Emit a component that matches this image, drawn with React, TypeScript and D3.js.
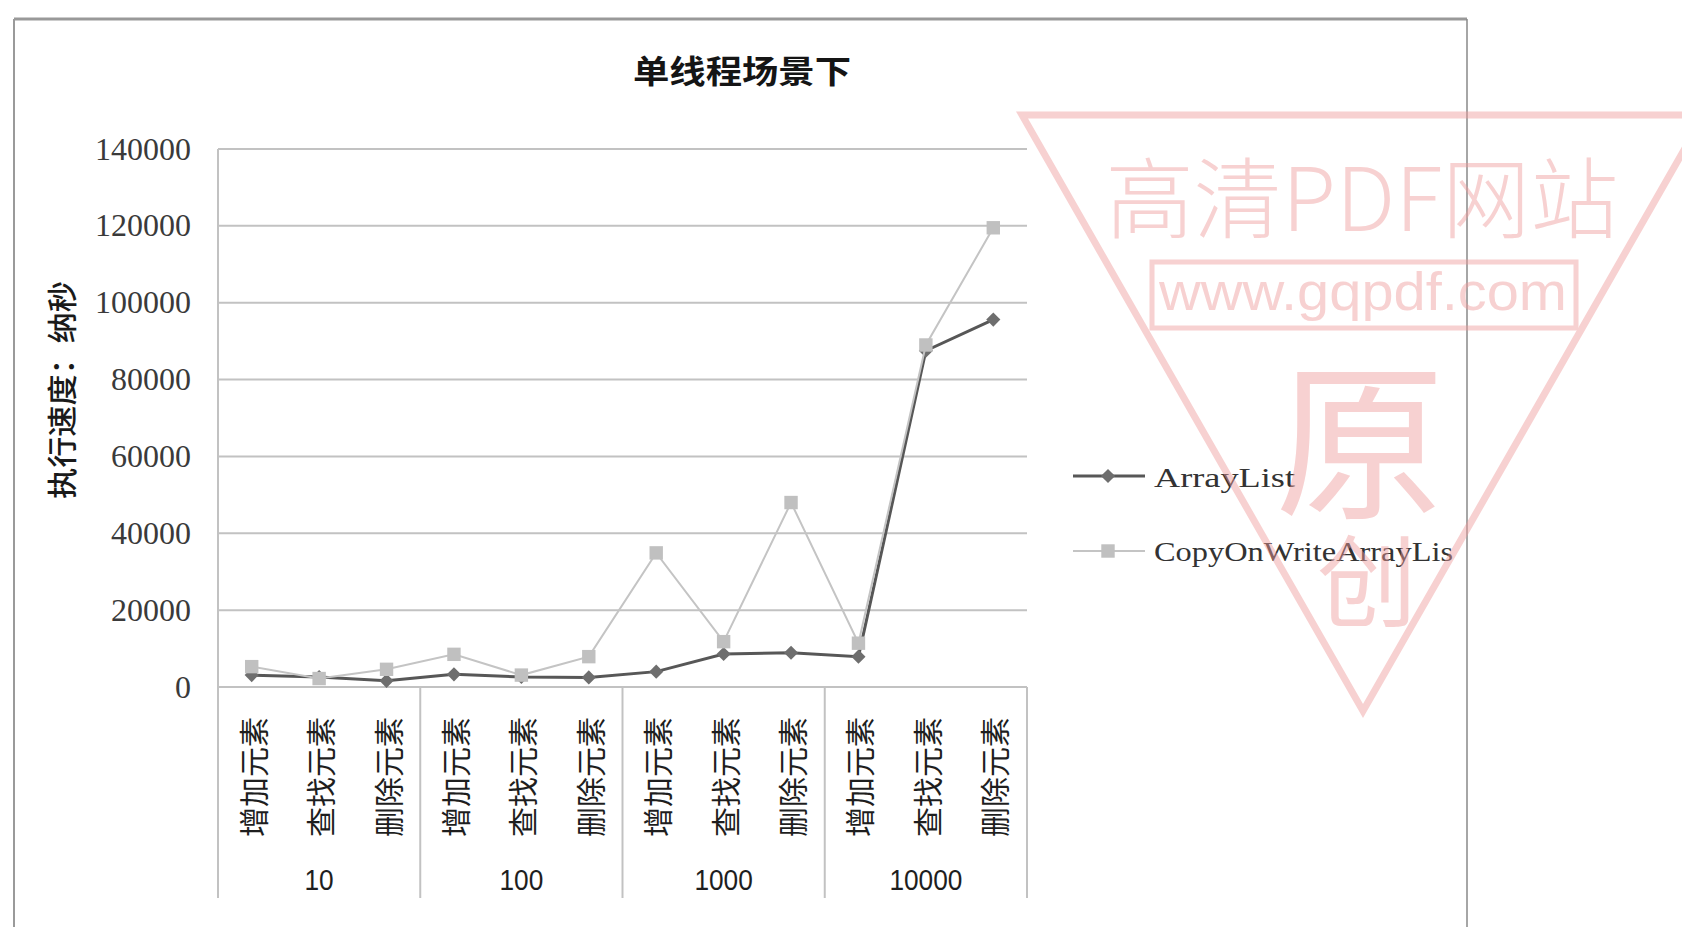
import React from "react";
import * as d3 from "d3";

const groups = ["10", "100", "1000", "10000"];
const operations = ["增加元素", "查找元素", "删除元素"];
const seriesNames = ["ArrayList", "CopyOnWriteArrayLis"];
const arrayListValues = [3100, 2600, 1600, 3300, 2600, 2500, 4000, 8600, 8900, 7900, 87500, 95600];
const copyOnWriteValues = [5300, 2200, 4600, 8500, 3100, 7900, 34900, 11800, 48000, 11400, 89000, 119500];
const yTicks = [0, 20000, 40000, 60000, 80000, 100000, 120000, 140000];
const title = "单线程场景下";
const yTitle = "执行速度：纳秒";

const W = 1682;
const H = 927;
const plotLeft = 218;
const plotRight = 1027;
const plotTop = 149;
const plotBottom = 687;
const axisBottom = 898;

export default function App() {
  const keys = groups.flatMap((g) => operations.map((o) => `${g}|${o}`));
  const x = d3.scaleBand<string>().domain(keys).range([plotLeft, plotRight]).padding(0);
  const y = d3.scaleLinear().domain([0, 140000]).range([plotBottom, plotTop]);
  const cx = (i: number) => (x(keys[i]) as number) + x.bandwidth() / 2;
  const line = d3
    .line<number>()
    .x((_, i) => cx(i))
    .y((d) => y(d));
  const diamond = d3.symbol().type(d3.symbolSquare).size(100)();
  const square = d3.symbol().type(d3.symbolSquare).size(180)();
  const groupWidth = x.bandwidth() * operations.length;

  return (
    <svg
      width={W}
      height={H}
      style={{ position: "absolute", left: 0, top: 0, display: "block", background: "#fff" }}
    >
      <rect x={0} y={0} width={W} height={H} fill="#fff" />
      {/* outer frame */}
      <line x1={14} y1={19} x2={1467} y2={19} stroke="#999" strokeWidth={3} />
      <line x1={14} y1={19} x2={14} y2={H} stroke="#9a9a9a" strokeWidth={2} />
      <line x1={1467} y1={19} x2={1467} y2={H} stroke="#888" strokeWidth={1.5} />

      {/* title */}
      <text
        x={742}
        y={83}
        textAnchor="middle"
        fontFamily="'Noto Sans CJK SC', sans-serif"
        fontWeight={700}
        fontSize={32}
        textLength={218}
        lengthAdjust="spacingAndGlyphs"
        fill="#151515"
      >
        {title}
      </text>

      {/* y axis title */}
      <text
        transform={`translate(60,390) rotate(-90)`}
        textAnchor="middle"
        dominantBaseline="central"
        fontFamily="'Noto Sans CJK SC', sans-serif"
        fontWeight={500}
        fontSize={30}
        textLength={218}
        lengthAdjust="spacingAndGlyphs"
        fill="#1a1a1a"
      >
        {yTitle}
      </text>

      {/* gridlines */}
      {yTicks.map((t) => (
        <g key={t}>
          <line x1={plotLeft} x2={plotRight} y1={y(t)} y2={y(t)} stroke="#c2c2c2" strokeWidth={2} />
          <text
            x={191}
            y={y(t)}
            textAnchor="end"
            dominantBaseline="central"
            fontFamily="'Liberation Serif', serif"
            fontSize={31}
            textLength={String(t).length * 16}
            lengthAdjust="spacingAndGlyphs"
            fill="#3a3a3a"
          >
            {t}
          </text>
        </g>
      ))}

      {/* left axis */}
      <line x1={plotLeft} x2={plotLeft} y1={plotTop} y2={axisBottom} stroke="#c2c2c2" strokeWidth={2} />
      {/* group separators */}
      {groups.map((g, gi) => {
        const xr = (x(`${g}|${operations[0]}`) as number) + groupWidth;
        return (
          <line key={g} x1={xr} x2={xr} y1={plotBottom} y2={axisBottom} stroke="#c2c2c2" strokeWidth={2} />
        );
      })}

      {/* category labels */}
      {keys.map((k, i) => (
        <text
          key={k}
          transform={`translate(${cx(i)},777) rotate(-90)`}
          textAnchor="middle"
          dominantBaseline="central"
          fontFamily="'Noto Sans CJK SC', sans-serif"
          fontSize={30}
          textLength={120}
          lengthAdjust="spacingAndGlyphs"
          fill="#1e1e1e"
        >
          {k.split("|")[1]}
        </text>
      ))}
      {groups.map((g) => {
        const gx = (x(`${g}|${operations[0]}`) as number) + groupWidth / 2;
        return (
          <text
            key={g}
            x={gx}
            y={880}
            textAnchor="middle"
            dominantBaseline="central"
            fontFamily="'Liberation Sans', Arial, sans-serif"
            fontSize={29}
            textLength={g.length * 14.6}
            lengthAdjust="spacingAndGlyphs"
            fill="#1e1e1e"
          >
            {g}
          </text>
        );
      })}

      {/* series: ArrayList */}
      <path d={line(arrayListValues) || ""} fill="none" stroke="#575757" strokeWidth={3} />
      {arrayListValues.map((v, i) => (
        <path
          key={`a${i}`}
          d={diamond || ""}
          transform={`translate(${cx(i)},${y(v)}) rotate(45)`}
          fill="#6e6e6e"
        />
      ))}
      {/* series: CopyOnWriteArrayList */}
      <path d={line(copyOnWriteValues) || ""} fill="none" stroke="#c4c4c4" strokeWidth={2} />
      {copyOnWriteValues.map((v, i) => (
        <path key={`c${i}`} d={square || ""} transform={`translate(${cx(i)},${y(v)})`} fill="#c0c0c0" />
      ))}

      {/* legend */}
      <line x1={1073} x2={1145} y1={476} y2={476} stroke="#575757" strokeWidth={3} />
      <path d={diamond || ""} transform={`translate(1108,476) rotate(45)`} fill="#6e6e6e" />
      <text
        x={1154}
        y={487}
        fontFamily="'Liberation Serif', serif"
        fontSize={28}
        textLength={141}
        lengthAdjust="spacingAndGlyphs"
        fill="#333"
      >
        {seriesNames[0]}
      </text>
      <line x1={1073} x2={1145} y1={551} y2={551} stroke="#c4c4c4" strokeWidth={2} />
      <path d={square || ""} transform={`translate(1108,551)`} fill="#c0c0c0" />
      <text
        x={1154}
        y={561}
        fontFamily="'Liberation Serif', serif"
        fontSize={28}
        textLength={299}
        lengthAdjust="spacingAndGlyphs"
        fill="#333"
      >
        {seriesNames[1]}
      </text>

      {/* watermark */}
      <g opacity={0.45} pointerEvents="none">
        <polygon
          points="1022,115 1704,115 1363,711"
          fill="none"
          stroke="#ef9a9a"
          strokeWidth={7}
        />
        <text
          x={1362}
          y={231}
          textAnchor="middle"
          fontFamily="'Noto Sans CJK SC', sans-serif"
          fontWeight={300}
          fontSize={88}
          textLength={513}
          lengthAdjust="spacingAndGlyphs"
          fill="#ef9a9a"
        >
          高清PDF网站
        </text>
        <rect x={1152} y={262} width={424} height={66} fill="none" stroke="#ef9a9a" strokeWidth={5} />
        <text
          x={1363}
          y={310}
          textAnchor="middle"
          fontFamily="'Liberation Sans', sans-serif"
          fontSize={54}
          textLength={408}
          lengthAdjust="spacingAndGlyphs"
          fill="#ef9a9a"
        >
          www.gqpdf.com
        </text>
        <text
          x={1360}
          y={432}
          textAnchor="middle"
          dominantBaseline="central"
          fontFamily="'Noto Sans CJK SC', sans-serif"
          fontSize={170}
          fill="#ef9a9a"
        >
          原
        </text>
        <text
          x={1367}
          y={575}
          textAnchor="middle"
          dominantBaseline="central"
          fontFamily="'Noto Sans CJK SC', sans-serif"
          fontSize={100}
          fill="#ef9a9a"
        >
          创
        </text>
      </g>
    </svg>
  );
}
